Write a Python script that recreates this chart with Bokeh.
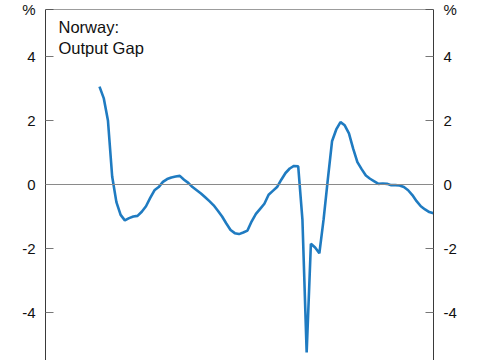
from bokeh.plotting import figure
from bokeh.models import Range1d, LinearAxis, FixedTicker, Span, Label
from bokeh.embed import file_html
from bokeh.resources import INLINE

# Quarterly output gap, Norway, 2008Q1 .. 2027Q4 (index 0 = 2008Q1)
quarter_index = list(range(80))
output_gap = [
    3.06, 2.70, 2.00, 0.25, -0.55, -0.95, -1.12, -1.05, -1.00, -0.98,
    -0.85, -0.68, -0.42, -0.18, -0.08, 0.08, 0.17, 0.22, 0.25, 0.27,
    0.15, 0.05, -0.08, -0.18, -0.28, -0.40, -0.52, -0.65, -0.82, -1.00,
    -1.22, -1.42, -1.52, -1.55, -1.50, -1.44, -1.15, -0.92, -0.76, -0.60,
    -0.32, -0.20, -0.08, 0.15, 0.36, 0.50, 0.58, 0.57, -1.10, -5.25,
    -1.85, -1.97, -2.15, -1.10, 0.15, 1.35, 1.72, 1.95, 1.85, 1.60,
    1.12, 0.70, 0.48, 0.28, 0.18, 0.10, 0.02, 0.03, 0.02, -0.02,
    -0.02, -0.03, -0.08, -0.18, -0.33, -0.52, -0.68, -0.78, -0.86, -0.90,
]
Y_TOP = 5.469
y_ticks = [-4, -2, 0, 2, 4, 5.46]
y_tick_labels = {-4: "-4", -2: "-2", 0: "0", 2: "2", 4: "4", 5.46: "%"}

FONT = "Liberation Sans"
AXIS_COLOR = "#3a3a3a"

p = figure(width=485, height=360, output_backend="svg", toolbar_location=None,
           x_range=Range1d(-12.77, 79.0), y_range=Range1d(-5.5, Y_TOP),
           min_border_left=45, min_border_right=52, min_border_top=9,
           min_border_bottom=0, x_axis_location=None, y_axis_location=None)
p.outline_line_color = None
p.grid.visible = False
p.background_fill_color = "white"
p.border_fill_color = "white"

for side in ("left", "right"):
    ax = LinearAxis(ticker=FixedTicker(ticks=y_ticks),
                    major_label_overrides=y_tick_labels)
    ax.axis_line_color = AXIS_COLOR
    ax.axis_line_width = 1
    ax.major_tick_in = 8
    ax.major_tick_out = 0
    ax.major_tick_line_color = "#777777"
    ax.minor_tick_line_color = None
    ax.major_label_text_font = FONT
    ax.major_label_text_font_size = "15px"
    ax.major_label_text_color = "#111111"
    ax.major_label_standoff = 10
    p.add_layout(ax, side)

# top border of the frame
p.add_layout(Span(location=Y_TOP, dimension="width", line_color=AXIS_COLOR, line_width=1))
# zero line
p.add_layout(Span(location=0, dimension="width", line_color="#8a8a8a", line_width=1))

p.line(quarter_index, output_gap, line_color="#1f7bc1", line_width=2.6)

# title inside plot
p.add_layout(Label(x=13, y=334, x_units="screen", y_units="screen", text="Norway:",
                   text_font=FONT, text_font_size="16.5px", text_color="#111111",
                   text_baseline="alphabetic"))
p.add_layout(Label(x=13, y=313, x_units="screen", y_units="screen", text="Output Gap",
                   text_font=FONT, text_font_size="16.5px", text_color="#111111",
                   text_baseline="alphabetic"))

open("out.html", "w").write(file_html(p, INLINE))
